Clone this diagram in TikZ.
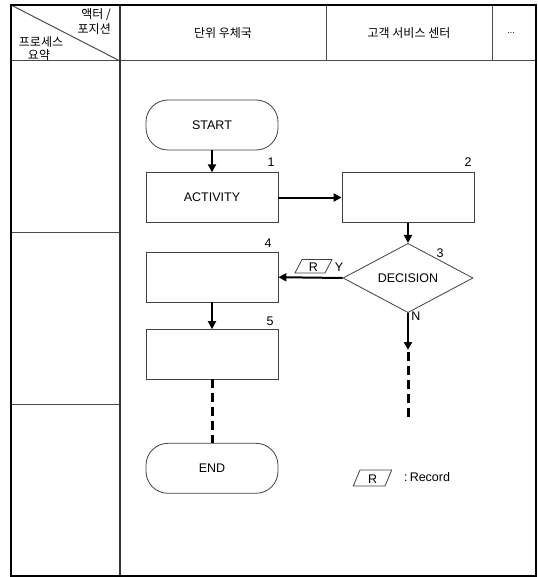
\documentclass[tikz,border=0pt]{standalone}
\usepackage{fontspec}
\setmainfont{Liberation Sans}
\newfontfamily\kr{Noto Sans CJK KR}
\usetikzlibrary{arrows.meta,shapes.geometric}
\begin{document}
\begin{tikzpicture}[x=1pt,y=-1pt,
  frame/.style={draw=black, line width=1.2pt},
  grid/.style={draw=black!70, line width=1pt},
  kt/.style={font=\kr\fontsize{12}{13}\selectfont, inner sep=0pt},
  lt/.style={font=\fontsize{12.5}{14}\selectfont, inner sep=0pt},
  box/.style={draw=black!75, line width=0.8pt, minimum width=132pt, minimum height=49.5pt, inner sep=0pt, font=\fontsize{12.5}{14}\selectfont},
  term/.style={box, rounded corners=22pt, minimum height=50pt},
  dec/.style={draw=black!75, line width=0.8pt, shape=diamond, minimum width=130pt, minimum height=56pt, inner sep=0pt, font=\fontsize{12.5}{14}\selectfont},
  flow/.style={draw=black, line width=2pt, -{Triangle[length=8pt,width=8pt]}},
  dashline/.style={draw=black, line width=3pt, dash pattern=on 9pt off 5pt},
  para/.style={draw=black!75, line width=0.8pt},
]
\useasboundingbox (0,0) rectangle (537,577);
% table
\draw[grid] (11,5) -- (120,61);
\draw[grid] (11,61) -- (536,61);
\draw[grid] (326,5) -- (326,61);
\draw[grid] (492,5) -- (492,61);
\draw[grid] (11,232) -- (120,232);
\draw[grid] (11,404) -- (120,404);
\draw[draw=black!80, line width=1.3pt] (120,5) -- (120,576);
\draw[frame] (11,5) rectangle (536,576);
% header texts
\node[kt, anchor=east] (h1) at (111,15) {액터 /};
\node[kt, anchor=east] (h2) at (111,29.5) {포지션};
\node[kt] (h3) at (41,42) {프로세스};
\node[kt] (h4) at (39,55) {요약};
\node[kt] (c1) at (223,33) {단위 우체국};
\node[kt] (c2) at (409,33) {고객 서비스 센터};
\node[font=\fontsize{9}{10}\selectfont, inner sep=0pt] (c3) at (511,33) {...};
% flow nodes
\node[term] (st) at (212,125) {START};
\node[box] (a1) at (212,197.5) {ACTIVITY};
\node[box] (a2) at (408,197.5) {};
\node[dec] (d3) at (408,278) {DECISION};
\node[box] (a4) at (212,277.2) {};
\node[box] (a5) at (212,354.3) {};
\node[term] (en) at (212,468.3) {END};
% numbers
\node[lt] (n1) at (271,162) {1};
\node[lt] (n2) at (468,162) {2};
\node[lt] (n3) at (440,253) {3};
\node[lt] (n4) at (268,243) {4};
\node[lt] (n5) at (270,321) {5};
\node[lt] (ly) at (339,267) {Y};
\node[lt] (ln) at (416,316) {N};
% connectors
\draw[flow] (st) -- (a1);
\draw[flow] (a1) -- (a2);
\draw[flow] (a2) -- (d3);
\draw[flow] (d3.west) -- (a4.east);
\draw[flow] (a4) -- (a5);
\coordinate (nt) at (408,350);
\coordinate (ns) at (408,352);
\coordinate (ne) at (408,418);
\draw[flow] (d3.south) -- (nt);
\draw[dashline] (ns) -- (ne);
\draw[dashline] (a5.south) -- (en.north);
% record symbol on Y
\draw[para] (302,259.5) -- (332,259.5) -- (325,273) -- (295,273) -- cycle;
\node[lt] (r1) at (313.5,267.5) {R};
% legend
\draw[para] (360,470) -- (391.7,470) -- (385,486) -- (353.3,486) -- cycle;
\node[lt] (r2) at (372.7,479.5) {R};
\node[lt, anchor=west] (rec) at (404,477) {:\,Record};
\end{tikzpicture}
\end{document}
